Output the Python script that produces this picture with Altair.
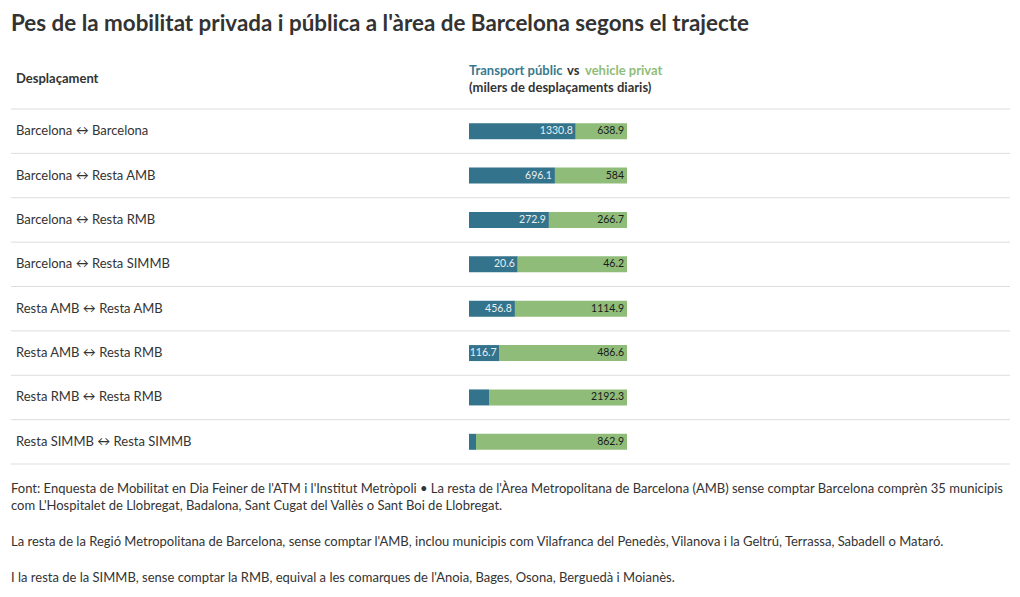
import altair as alt
import pandas as pd

routes = [
    "Barcelona ↔ Barcelona",
    "Barcelona ↔ Resta AMB",
    "Barcelona ↔ Resta RMB",
    "Barcelona ↔ Resta SIMMB",
    "Resta AMB ↔ Resta AMB",
    "Resta AMB ↔ Resta RMB",
    "Resta RMB ↔ Resta RMB",
    "Resta SIMMB ↔ Resta SIMMB",
]
public = [1330.8, 696.1, 272.9, 20.6, 456.8, 116.7, 318.0, 40.0]
private = [638.9, 584.0, 266.7, 46.2, 1114.9, 486.6, 2192.3, 862.9]

FONT = "Lato"
BLUE = "#33738b"
GREEN = "#8fbd79"
DARK = "#333333"

rows = []
for i, r in enumerate(routes):
    rows.append({"route": r, "idx": i, "mode": "Transport públic", "ord": 0, "value": public[i]})
    rows.append({"route": r, "idx": i, "mode": "vehicle privat", "ord": 1, "value": private[i]})
df = pd.DataFrame(rows)
labels_df = pd.DataFrame({"route": routes, "idx": list(range(len(routes)))})
seps_df = pd.DataFrame({"sep": [i - 0.5 for i in range(len(routes) + 1)]})

yscale = alt.Scale(domain=[-0.5, len(routes) - 0.5], range=[101, 456], nice=False, zero=False, padding=0)
xscale = alt.Scale(domain=[0, 1], range=[461, 619], nice=False, zero=False, padding=0)

base = alt.Chart(df)

bars = base.mark_bar(size=16, orient="horizontal").encode(
    x=alt.X("value:Q", stack="normalize", scale=xscale, axis=None),
    y=alt.Y("idx:Q", scale=yscale, axis=None),
    color=alt.Color("mode:N", scale=alt.Scale(domain=["Transport públic", "vehicle privat"], range=[BLUE, GREEN]), legend=None),
    order=alt.Order("ord:Q", sort="ascending"),
)

vals = base.transform_joinaggregate(
    total="sum(value)", groupby=["route"]
).transform_calculate(
    share="datum.value / datum.total"
).mark_text(align="right", baseline="middle", dx=-3, fontSize=10.5, font=FONT).encode(
    x=alt.X("value:Q", stack="normalize", scale=xscale, axis=None),
    y=alt.Y("idx:Q", scale=yscale, axis=None),
    detail="mode:N",
    order=alt.Order("ord:Q", sort="ascending"),
    text=alt.condition("datum.share > 0.15", alt.Text("value:Q", format="~f"), alt.value("")),
    color=alt.condition("datum.ord == 0", alt.value("#e8f0f2"), alt.value("#1a1a1a")),
)

row_labels = alt.Chart(labels_df).mark_text(align="left", baseline="middle", fontSize=13, font=FONT, color=DARK).encode(
    x=alt.value(8),
    y=alt.Y("idx:Q", scale=yscale, axis=None),
    text="route:N",
)

seps = alt.Chart(seps_df).mark_rule(color="#dddddd", strokeWidth=1).encode(
    x=alt.value(3),
    x2=alt.value(1002),
    y=alt.Y("sep:Q", scale=yscale, axis=None),
)

def txt(s, x, y, size=13, weight="normal", color=DARK):
    return alt.Chart(pd.DataFrame({"t": [s]})).mark_text(
        align="left", baseline="middle", fontSize=size, fontWeight=weight, font=FONT, color=color
    ).encode(x=alt.value(x), y=alt.value(y), text="t:N")

title = txt("Pes de la mobilitat privada i pública a l'àrea de Barcelona segons el trajecte", 3, 16, size=22.4, weight="bold")
h1 = txt("Desplaçament", 8, 71, weight="bold")
h2a = txt("Transport públic", 461, 63, weight="bold", color="#3a7a8e")
h2b = txt("vs", 559, 63, weight="bold")
h2c = txt("vehicle privat", 577, 63, weight="bold", color=GREEN)
h3 = txt("(milers de desplaçaments diaris)", 461, 80, weight="bold")

f1 = txt("Font: Enquesta de Mobilitat en Dia Feiner de l'ATM i l'Institut Metròpoli • La resta de l'Àrea Metropolitana de Barcelona (AMB) sense comptar Barcelona comprèn 35 municipis", 3, 481)
f2 = txt("com L'Hospitalet de Llobregat, Badalona, Sant Cugat del Vallès o Sant Boi de Llobregat.", 3, 498)
f3 = txt("La resta de la Regió Metropolitana de Barcelona, sense comptar l'AMB, inclou municipis com Vilafranca del Penedès, Vilanova i la Geltrú, Terrassa, Sabadell o Mataró.", 3, 534)
f4 = txt("I la resta de la SIMMB, sense comptar la RMB, equival a les comarques de l'Anoia, Bages, Osona, Berguedà i Moianès.", 3, 570)

chart = alt.layer(
    seps, bars, vals, row_labels, title, h1, h2a, h2b, h2c, h3, f1, f2, f3, f4
).properties(
    width=1004, height=581, padding=0, background="white",
    autosize=alt.AutoSizeParams(type="none")
).configure_view(stroke=None)

chart.save("out.html", embed_options={"renderer": "svg", "actions": False})
